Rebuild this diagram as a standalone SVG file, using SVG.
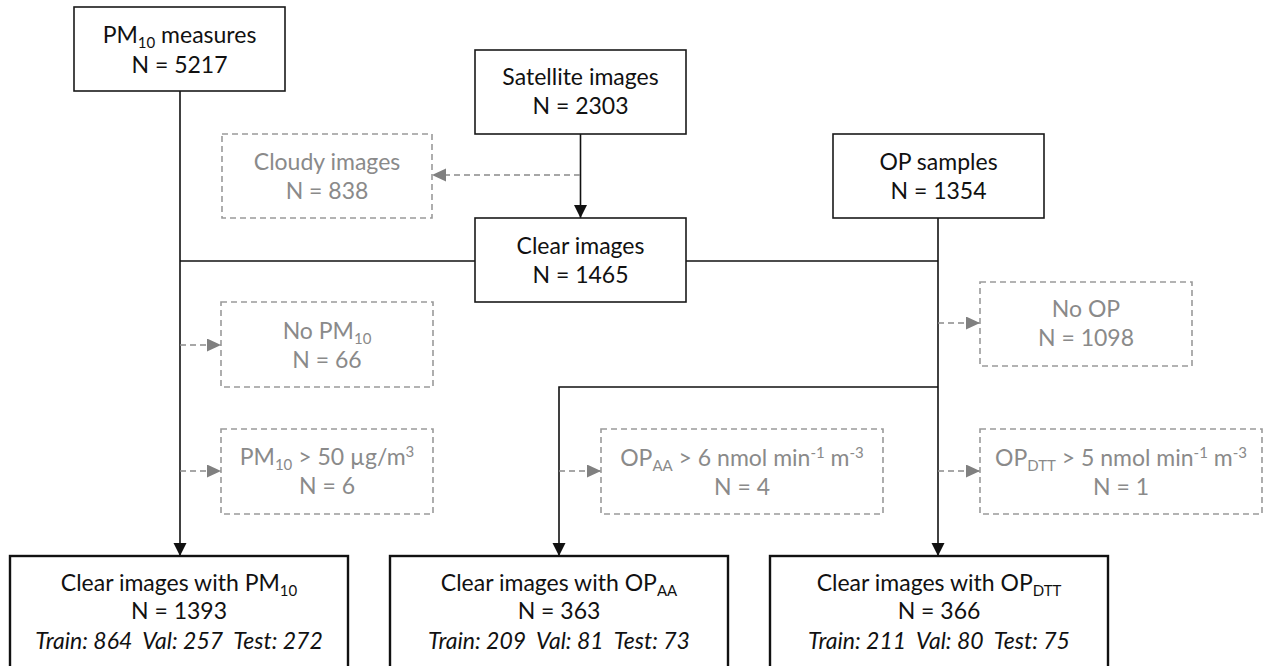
<svg xmlns="http://www.w3.org/2000/svg" width="1263" height="666" viewBox="0 0 1263 666">
<style>
  text { font-family: Lato, "Liberation Sans", sans-serif; font-size: 23px; text-anchor: middle; }
  .main rect { fill: #fff; stroke: #1a1a1a; stroke-width: 1.6; }
  .final rect { fill: #fff; stroke: #111; stroke-width: 2.4; }
  .main text, .final text { fill: #111; }
  .excl rect { fill: #fff; stroke: #9a9a9a; stroke-width: 1.6; stroke-dasharray: 6 4; }
  .excl text { fill: #8a8a8a; }
  .it { font-style: italic; white-space: pre; }
  .solid { stroke: #111; stroke-width: 1.6; fill: none; }
  .dash { stroke: #8a8a8a; stroke-width: 1.6; stroke-dasharray: 6 4; fill: none; }
  .sub { font-size: 15px; }
</style>
<defs>
  <marker id="ab" markerUnits="userSpaceOnUse" markerWidth="14" markerHeight="14" refX="13" refY="6.5" orient="auto">
    <path d="M0,0 L13,6.5 L0,13 z" fill="#111"/>
  </marker>
  <marker id="ag" markerUnits="userSpaceOnUse" markerWidth="15" markerHeight="14" refX="14" refY="6.5" orient="auto">
    <path d="M0,0 L14,6.5 L0,13 z" fill="#808080"/>
  </marker>
</defs>

<g id="connectors">
  <line class="solid" x1="180" y1="91" x2="180" y2="556" marker-end="url(#ab)"/>
  <line class="solid" x1="580.5" y1="134" x2="580.5" y2="218" marker-end="url(#ab)"/>
  <line class="dash" x1="580" y1="175" x2="432" y2="175" marker-end="url(#ag)"/>
  <line class="solid" x1="180" y1="261" x2="475" y2="261"/>
  <line class="solid" x1="686" y1="261" x2="938" y2="261"/>
  <line class="solid" x1="938" y1="218" x2="938" y2="556" marker-end="url(#ab)"/>
  <line class="dash" x1="938" y1="323" x2="980" y2="323" marker-end="url(#ag)"/>
  <polyline class="solid" points="938,387 559,387 559,556" marker-end="url(#ab)"/>
  <line class="dash" x1="180" y1="345" x2="221" y2="345" marker-end="url(#ag)"/>
  <line class="dash" x1="180" y1="471" x2="221" y2="471" marker-end="url(#ag)"/>
  <line class="dash" x1="559" y1="471" x2="601" y2="471" marker-end="url(#ag)"/>
  <line class="dash" x1="938" y1="471" x2="980" y2="471" marker-end="url(#ag)"/>
</g>

<g id="pm10" class="main">
  <rect x="74" y="7" width="211" height="84"/>
  <text x="179.5" y="43">PM<tspan class="sub" dy="5">10</tspan><tspan dy="-5"> measures</tspan></text>
  <text x="179.5" y="73">N = 5217</text>
</g>

<g id="satellite" class="main">
  <rect x="475" y="50" width="211" height="84"/>
  <text x="580.5" y="85">Satellite images</text>
  <text x="580.5" y="114">N = 2303</text>
</g>

<g id="cloudy" class="excl">
  <rect x="222" y="134" width="210" height="84"/>
  <text x="327" y="170">Cloudy images</text>
  <text x="327" y="199">N = 838</text>
</g>

<g id="op" class="main">
  <rect x="833" y="134" width="211" height="84"/>
  <text x="938.5" y="170">OP samples</text>
  <text x="938.5" y="199">N = 1354</text>
</g>

<g id="clear" class="main">
  <rect x="475" y="218" width="211" height="84"/>
  <text x="580.5" y="254">Clear images</text>
  <text x="580.5" y="283">N = 1465</text>
</g>

<g id="noop" class="excl">
  <rect x="980" y="282" width="212" height="84"/>
  <text x="1086" y="317">No OP</text>
  <text x="1086" y="346">N = 1098</text>
</g>

<g id="nopm10" class="excl">
  <rect x="221" y="302" width="212" height="85"/>
  <text x="327" y="339">No PM<tspan class="sub" dy="5">10</tspan></text>
  <text x="327" y="368">N = 66</text>
</g>

<g id="pm10high" class="excl">
  <rect x="221" y="429" width="212" height="85"/>
  <text x="327" y="465">PM<tspan class="sub" dy="5">10</tspan><tspan dy="-5"> &gt; 50 µg/m</tspan><tspan class="sub" dy="-8">3</tspan></text>
  <text x="327" y="494">N = 6</text>
</g>

<g id="opaahigh" class="excl">
  <rect x="601" y="429" width="282" height="85"/>
  <text x="742" y="466">OP<tspan class="sub" dy="5">AA</tspan><tspan dy="-5"> &gt; 6 nmol min</tspan><tspan class="sub" dy="-8">-1</tspan><tspan dy="8"> m</tspan><tspan class="sub" dy="-8">-3</tspan></text>
  <text x="742" y="495">N = 4</text>
</g>

<g id="opdtthigh" class="excl">
  <rect x="980" y="429" width="282" height="85"/>
  <text x="1121" y="466">OP<tspan class="sub" dy="5">DTT</tspan><tspan dy="-5"> &gt; 5 nmol min</tspan><tspan class="sub" dy="-8">-1</tspan><tspan dy="8"> m</tspan><tspan class="sub" dy="-8">-3</tspan></text>
  <text x="1121" y="495">N = 1</text>
</g>

<g id="final-pm10" class="final">
  <rect x="10" y="556" width="338" height="120"/>
  <text x="179" y="591">Clear images with PM<tspan class="sub" dy="5">10</tspan></text>
  <text x="179" y="619">N = 1393</text>
  <text x="179" y="649" class="it">Train: 864  Val: 257  Test: 272</text>
</g>

<g id="final-opaa" class="final">
  <rect x="390" y="556" width="338" height="120"/>
  <text x="559" y="591">Clear images with OP<tspan class="sub" dy="5">AA</tspan></text>
  <text x="559" y="619">N = 363</text>
  <text x="559" y="649" class="it">Train: 209  Val: 81  Test: 73</text>
</g>

<g id="final-opdtt" class="final">
  <rect x="770" y="556" width="338" height="120"/>
  <text x="939" y="591">Clear images with OP<tspan class="sub" dy="5">DTT</tspan></text>
  <text x="939" y="619">N = 366</text>
  <text x="939" y="649" class="it">Train: 211  Val: 80  Test: 75</text>
</g>
</svg>
